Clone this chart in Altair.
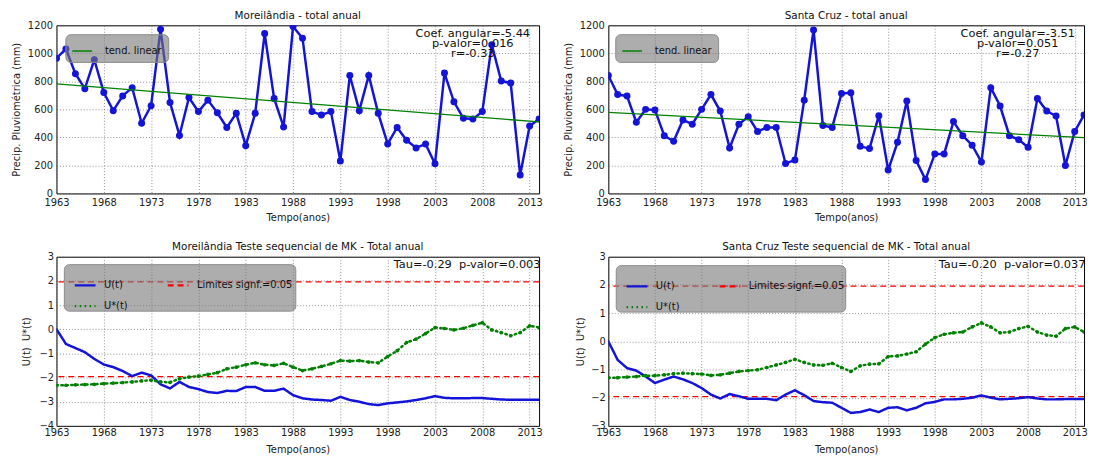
import altair as alt
import pandas as pd

anos = list(range(1963, 2015))
x_ticks = [1963, 1968, 1973, 1978, 1983, 1988, 1993, 1998, 2003, 2008, 2013]
y_ticks_precip = [0, 200, 400, 600, 800, 1000, 1200]
y_ticks_mor_mk = [-4, -3, -2, -1, 0, 1, 2, 3]
y_ticks_sc_mk = [-3, -2, -1, 0, 1, 2, 3]

mor_precip = [965, 1031, 854, 748, 955, 720, 591, 696, 755, 501,
              626, 1172, 649, 414, 685, 584, 666, 576, 471, 572,
              341, 572, 1141, 678, 475, 1191, 1108, 584, 560, 584,
              231, 842, 591, 842, 572, 353, 471, 379, 325, 353,
              212, 859, 654, 536, 532, 584, 1061, 802, 788, 132,
              482, 532]
sc_precip = [842, 706, 696, 508, 600, 595, 412, 372, 525, 494,
             600, 706, 588, 325, 494, 548, 442, 471, 471, 214,
             238, 666, 1167, 485, 471, 713, 718, 336, 320, 555,
             167, 365, 659, 235, 99, 282, 282, 513, 412, 344,
             224, 755, 624, 412, 384, 329, 678, 588, 553, 200,
             442, 560]

mor_u = [0.0, -0.61, -0.78, -0.95, -1.23, -1.46, -1.57, -1.73, -1.94, -1.80,
         -1.91, -2.28, -2.45, -2.18, -2.39, -2.48, -2.60, -2.64, -2.55, -2.56,
         -2.39, -2.39, -2.55, -2.55, -2.46, -2.73, -2.86, -2.91, -2.93, -2.96,
         -2.80, -2.93, -3.00, -3.10, -3.14, -3.07, -3.03, -2.99, -2.93, -2.86,
         -2.77, -2.84, -2.86, -2.86, -2.85, -2.85, -2.88, -2.91, -2.92, -2.92,
         -2.92, -2.92]
mor_ustar = [-2.32, -2.32, -2.30, -2.29, -2.28, -2.25, -2.23, -2.21, -2.18, -2.14,
             -2.11, -2.18, -2.20, -2.05, -1.98, -1.94, -1.87, -1.80, -1.64, -1.57,
             -1.47, -1.39, -1.47, -1.50, -1.41, -1.57, -1.71, -1.64, -1.54, -1.43,
             -1.30, -1.32, -1.30, -1.36, -1.39, -1.13, -0.89, -0.55, -0.41, -0.18,
             0.07, 0.03, -0.03, 0.04, 0.16, 0.27, -0.03, -0.14, -0.27, -0.14,
             0.14, 0.07]
sc_u = [0.0, -0.66, -0.95, -1.04, -1.25, -1.48, -1.36, -1.25, -1.35, -1.48,
        -1.66, -1.89, -2.03, -1.87, -1.95, -2.04, -2.04, -2.04, -2.09, -1.89,
        -1.74, -1.91, -2.12, -2.16, -2.18, -2.36, -2.54, -2.51, -2.42, -2.51,
        -2.36, -2.34, -2.45, -2.36, -2.20, -2.15, -2.06, -2.06, -2.04, -2.00,
        -1.92, -2.00, -2.06, -2.04, -2.02, -1.98, -2.03, -2.06, -2.06, -2.05,
        -2.05, -2.05]
sc_ustar = [-1.29, -1.29, -1.27, -1.25, -1.22, -1.22, -1.19, -1.15, -1.13, -1.15,
            -1.16, -1.21, -1.19, -1.13, -1.07, -1.04, -1.01, -0.93, -0.84, -0.75,
            -0.64, -0.75, -0.84, -0.85, -0.78, -0.93, -1.07, -0.87, -0.81, -0.80,
            -0.54, -0.52, -0.45, -0.37, -0.10, 0.13, 0.25, 0.30, 0.33, 0.51,
            0.65, 0.51, 0.30, 0.33, 0.45, 0.53, 0.33, 0.22, 0.18, 0.45,
            0.51, 0.33]

limite = 1.96
series_mk = ["U(t)", "U*(t)", "Limites signf.=0.05"]

mor_title = "Moreilândia - total anual"
sc_title = "Santa Cruz - total anual"
mor_mk_title = "Moreilândia Teste sequencial de MK - Total anual"
sc_mk_title = "Santa Cruz Teste sequencial de MK - Total anual"
mor_stats = "Coef. angular=-5.44\np-valor=0.016\nr=-0.33"
sc_stats = "Coef. angular=-3.51\np-valor=0.051\nr=-0.27"
mor_tau = "Tau=-0.29\u00a0\u00a0p-valor=0.003"
sc_tau = "Tau=-0.20\u00a0\u00a0p-valor=0.037"

BLUE = "#1414d8"
GREEN = "#008000"
RED = "#ff0000"
FONT = "DejaVu Sans"
LEGEND_FILL = "rgba(118,118,118,0.6)"


def x_enc(label_pad, title_pad):
    return alt.X("ano:Q",
                 scale=alt.Scale(domain=[1963, 2014], nice=False, zero=False),
                 axis=alt.Axis(values=x_ticks, format="d", title="Tempo(anos)",
                               labelPadding=label_pad, titlePadding=title_pad,
                               labelFlush=False))


def panel_title(text):
    return alt.TitleParams(text, fontSize=10.5, fontWeight="normal", frame="group",
                           offset=-1, font=FONT, color="#111")


def top_panel(precip, title, stats, w, leg_x, stats_x):
    df = pd.DataFrame({"ano": anos, "precip": precip})
    y = alt.Y("precip:Q", scale=alt.Scale(domain=[0, 1200], nice=False),
              axis=alt.Axis(values=y_ticks_precip, format="d",
                            title="Precip. Pluviométrica (mm)",
                            labelPadding=4, titlePadding=6, labelFlush=False))
    base = alt.Chart(df).encode(x=x_enc(4, 5), y=y)
    line = base.mark_line(color=BLUE, strokeWidth=2.5, clip=True)
    pts = base.mark_circle(color=BLUE, size=50, opacity=1, clip=True)
    trend = base.transform_regression(
        "ano", "precip", extent=[1963, 2014]
    ).transform_calculate(serie="'tend. linear'").mark_line(
        strokeWidth=1.3, clip=True
    ).encode(color=alt.Color(
        "serie:N", scale=alt.Scale(domain=["tend. linear"], range=[GREEN]),
        legend=alt.Legend(title=None, orient="none", legendX=leg_x, legendY=9,
                          fillColor=LEGEND_FILL, strokeColor="#8c8c8c", cornerRadius=5,
                          padding=6, symbolType="stroke", symbolSize=400,
                          symbolStrokeWidth=1.5, labelFontSize=10, labelOffset=12,
                          labelColor="#111", labelFont=FONT)))
    ann = alt.Chart(pd.DataFrame({"k": [0]})).mark_text(
        align="center", baseline="middle", fontSize=11.5, lineBreak="\n",
        lineHeight=10, color="#111", font=FONT
    ).encode(x=alt.value(stats_x), y=alt.value(9), text=alt.value(stats))
    return alt.layer(line, pts, trend, ann).properties(
        width=w, height=170, title=panel_title(title))


def mk_panel(u, ustar, title, tau, w, h, ydom, yticks, tau_x, box, ytitle_pad):
    df = pd.DataFrame({
        "ano": anos + anos,
        "valor": u + ustar,
        "serie": ["U(t)"] * len(anos) + ["U*(t)"] * len(anos),
    })
    lim = pd.DataFrame({"valor": [limite, -limite],
                        "serie": ["Limites signf.=0.05"] * 2})
    leg = alt.Legend(title=None, orient="none", legendX=box[0], legendY=box[2], columns=2,
                     padding=9, symbolType="stroke", symbolSize=441,
                     symbolStrokeWidth=2.3, labelFontSize=10, labelOffset=7,
                     columnPadding=34, rowPadding=4, labelColor="#111", labelFont=FONT)
    color = alt.Color("serie:N", scale=alt.Scale(domain=series_mk, range=[BLUE, GREEN, RED]),
                      legend=leg)
    dash = alt.StrokeDash("serie:N",
                          scale=alt.Scale(domain=series_mk, range=[[1, 0], [1.5, 3.5], [6, 4]]),
                          legend=leg)
    y = alt.Y("valor:Q", scale=alt.Scale(domain=ydom, nice=False),
              axis=alt.Axis(values=yticks, title="U(t)\u00a0\u00a0U*(t)",
                            labelPadding=3, titlePadding=ytitle_pad, labelFlush=False))
    rules = alt.Chart(lim).mark_rule(strokeWidth=1.3).encode(y=y, color=color, strokeDash=dash)
    lines = alt.Chart(df).mark_line(strokeWidth=2.5, strokeCap="round", clip=True).encode(
        x=x_enc(2, 7), y=y, color=color, strokeDash=dash)
    pts = alt.Chart(df).transform_filter("datum.serie == 'U*(t)'").mark_circle(
        size=14, color=GREEN, opacity=1, clip=True).encode(x=x_enc(2, 7), y=y)
    legend_box = alt.Chart(pd.DataFrame({"k": [0]})).mark_rect(
        fill=LEGEND_FILL, stroke="#8c8c8c", strokeWidth=1, cornerRadius=5
    ).encode(x=alt.value(box[0]), x2=alt.value(box[1]),
             y=alt.value(box[2]), y2=alt.value(box[3]))
    ann = alt.Chart(pd.DataFrame({"k": [0]})).mark_text(
        align="left", baseline="middle", fontSize=11.5, color="#111", font=FONT
    ).encode(x=alt.value(tau_x), y=alt.value(8), text=alt.value(tau))
    return alt.layer(rules, lines, pts, legend_box, ann).properties(
        width=w, height=h, title=panel_title(title))


tl = top_panel(mor_precip, mor_title, mor_stats, 488, 9, 421)
tr = top_panel(sc_precip, sc_title, sc_stats, 481, 7, 414)
bl = mk_panel(mor_u, mor_ustar, mor_mk_title, mor_tau, 488, 171, [-4, 3],
              y_ticks_mor_mk, 341, (8, 242, 8, 55), 8)
br = mk_panel(sc_u, sc_ustar, sc_mk_title, sc_tau, 481, 171, [-3, 3],
              y_ticks_sc_mk, 334, (8, 240, 9, 56), 5)

chart = alt.concat(
    tl, tr, bl, br, columns=2, spacing={"row": 64, "column": 70}, bounds="flush"
).resolve_scale(color="independent", strokeDash="independent").properties(
    padding={"left": 3, "top": 0, "right": 0, "bottom": 0}
).configure_view(
    stroke="#000", strokeWidth=1
).configure_axis(
    labelFont=FONT, labelFontSize=10, labelColor="#222",
    titleFont=FONT, titleFontSize=10, titleFontWeight="normal", titleColor="#222",
    grid=True, gridColor="#555", gridDash=[1, 2], gridWidth=0.8, gridOpacity=0.8,
    domain=False, ticks=False, tickSize=0
).configure_text(font=FONT)

chart.save("out.html", embed_options={"renderer": "svg", "actions": False})
